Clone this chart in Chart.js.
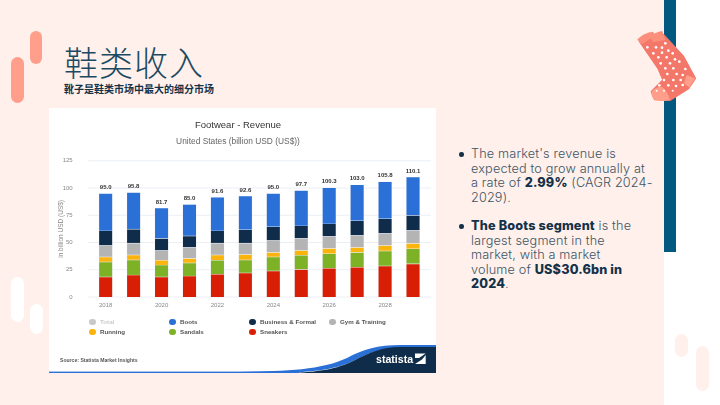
<!DOCTYPE html>
<html>
<head>
<meta charset="utf-8">
<script src="https://cdn.jsdelivr.net/npm/chart.js@4"></script>
<style>
html, body { margin: 0; padding: 0; }
body { width: 720px; height: 405px; position: relative; overflow: hidden; background: #fff; font-family: "Liberation Sans", sans-serif; }
.abs { position: absolute; }
#slide-bg { left: 0; top: 0; width: 664px; height: 405px; background: #fff0eb; }
#strip { left: 664px; top: 0; width: 12px; height: 252px; background: #02587f; }
.pill { position: absolute; border-radius: 7px; }
#title { left: 64px; top: 42px; font: 200 34px/40px "Noto Sans CJK SC"; color: #1c4a63; letter-spacing: 1px; white-space: nowrap; }
#subtitle { left: 64px; top: 82px; font: 700 10px/14px "Noto Sans CJK SC"; color: #12324a; white-space: nowrap; }
#card { left: 49px; top: 108px; width: 387px; height: 265px; background: #fff; }
#chart { position: absolute; left: 0; top: 0; }
#legend { left: 84px; top: 317px; width: 330px; }
.lg { position: absolute; font: 700 6.2px/10px "Liberation Sans"; color: #555; white-space: nowrap; padding-left: 11px; }
.lg i { position: absolute; left: 0; top: 0.5px; width: 6.5px; height: 6.5px; border-radius: 50%; margin-top: 1px; }
#source { left: 60px; top: 356px; font: 700 5.1px/8px "Liberation Sans"; color: #555; white-space: nowrap; }
#logo { left: 375.5px; top: 352px; font: 700 11.5px/14px "Liberation Sans"; color: #fff; white-space: nowrap; transform: scaleX(0.92); transform-origin: left center; }
#notes { left: 458px; top: 147px; width: 204px; font: 300 12.7px/14.5px "Inter"; letter-spacing: 0.15px; color: #3d5566; }
#notes b { font-weight: 800; color: #12324a; }
.note { position: relative; padding-left: 13px; margin-bottom: 14px; white-space: nowrap; }
.note::before { content: ""; position: absolute; left: 1px; top: 5px; width: 4.5px; height: 4.5px; border-radius: 50%; background: #12324a; }
</style>
</head>
<body>
<div class="abs" id="slide-bg"></div>
<div class="abs" id="strip"></div>
<div class="pill" style="left:11px;top:57px;width:13px;height:46px;background:#ff9e8a"></div>
<div class="pill" style="left:30px;top:31px;width:12px;height:33px;background:#ff9e8a"></div>
<div class="pill" style="left:11px;top:277px;width:13px;height:45px;background:#fff"></div>
<div class="pill" style="left:30px;top:304px;width:13px;height:30px;background:#fff"></div>
<div class="pill" style="left:675px;top:334px;width:13px;height:23px;background:#fff0eb"></div>
<div class="pill" style="left:696px;top:346px;width:13px;height:45px;background:#fff0eb"></div>

<!-- sock, coordinates taken from the 3x crop -->
<svg class="abs" style="left:620px;top:0" width="100" height="110" viewBox="0 0 300 330">
  <path d="M60 125 L130 105 L190 170 L225 235 L205 265 L150 300 L105 298 L95 275 L130 240 L115 205 Z" fill="#f4786a" stroke="#f4786a" stroke-width="6" stroke-linejoin="round"/>
  <path d="M52 118 Q70 98 100 95 L104 108 L66 132 Q56 128 52 118 Z" fill="#fb8f7c"/>
  <path d="M88 112 Q105 95 127 93 Q132 108 136 120 L100 126 Z" fill="#fb8f7c"/>
  <path d="M95 275 Q110 258 128 262 Q145 278 150 300 Q115 308 100 296 Q92 285 95 275 Z" fill="#ff9e8a"/>
  <path d="M200 225 L225 235 L208 263 L192 250 Z" fill="#ff9e8a"/>
  <g fill="#fff">
    <circle cx="82" cy="142" r="4"/><circle cx="108" cy="142" r="4"/><circle cx="126" cy="143" r="4"/><circle cx="136" cy="130" r="4"/>
    <circle cx="100" cy="160" r="4"/><circle cx="126" cy="158" r="4"/><circle cx="145" cy="152" r="4"/><circle cx="158" cy="160" r="4"/>
    <circle cx="115" cy="172" r="4"/><circle cx="140" cy="172" r="4"/><circle cx="165" cy="178" r="4"/>
    <circle cx="122" cy="190" r="4"/><circle cx="150" cy="190" r="4"/><circle cx="178" cy="185" r="4"/>
    <circle cx="136" cy="205" r="4"/><circle cx="160" cy="205" r="4"/><circle cx="196" cy="207" r="4"/>
    <circle cx="142" cy="222" r="4"/><circle cx="170" cy="222" r="4"/><circle cx="188" cy="225" r="4"/>
    <circle cx="132" cy="240" r="4"/><circle cx="160" cy="240" r="4"/><circle cx="182" cy="240" r="4"/>
    <circle cx="118" cy="256" r="4"/><circle cx="145" cy="256" r="4"/><circle cx="168" cy="258" r="4"/><circle cx="188" cy="255" r="4"/>
    <circle cx="110" cy="272" r="3"/><circle cx="132" cy="272" r="3"/><circle cx="158" cy="272" r="3"/>
  </g>
</svg>

<div class="abs" id="title">鞋类收入</div>
<div class="abs" id="subtitle">靴子是鞋类市场中最大的细分市场</div>

<div class="abs" id="card">
  <canvas id="chart" width="387" height="265"></canvas>
  <svg class="abs" style="left:0;top:0" width="387" height="265" viewBox="0 0 387 265">
    <path d="M190 264 C240 263 272 262 298 250 C315 241 328 237 352 237 L387 237 L387 240 L350 240 C330 240 318 246 302 254 C280 264 250 264.5 220 265 Z" fill="#2a70d6"/>
    <path d="M240 265 C270 264 288 261 304 253 C320 245 332 239 352 239 L387 239 L387 265 Z" fill="#0f2d4a"/>
    <rect x="0" y="263.6" width="250" height="1.4" fill="#2a70d6"/>
    <path d="M366 245.5 H376.7 L370 250 H366 Z M376.7 247 V256 H366 L373 251.5 Z" fill="#fff"/>
  </svg>
</div>
<div class="abs" id="legend"></div>
<div class="abs" id="source">Source: Statista Market Insights</div>
<div class="abs" id="logo">statista</div>

<div class="abs" id="notes">
  <div class="note">The market's revenue is<br>expected to grow annually at<br>a rate of <b>2.99%</b> (CAGR 2024-<br>2029).</div>
  <div class="note"><b>The Boots segment</b> is the<br>largest segment in the<br>market, with a market<br>volume of <b>US$30.6bn in<br>2024</b>.</div>
</div>

<script>
const years = ['2018', '2019', '2020', '2021', '2022', '2023', '2024', '2025', '2026', '2027', '2028', '2029'];
const sneakers = [18.4, 20.2, 18.4, 19.3, 20.9, 22.1, 23.9, 25.2, 26.4, 27.3, 28.5, 30.4];
const sandals = [13.8, 13.8, 11.0, 12.0, 12.8, 11.9, 12.9, 13.1, 13.2, 13.5, 13.8, 13.8];
const running = [4.6, 4.6, 4.3, 4.0, 4.9, 5.0, 4.0, 4.3, 4.9, 4.6, 4.9, 4.9];
const gym = [10.4, 10.8, 8.9, 10.1, 10.8, 10.4, 11.0, 11.1, 11.0, 11.0, 11.1, 11.9];
const business = [13.5, 12.9, 11.1, 10.7, 11.3, 12.3, 12.6, 11.6, 11.7, 13.5, 13.5, 13.8];
const boots = [34.3, 33.5, 28.0, 28.9, 30.9, 30.9, 30.6, 32.4, 33.1, 33.1, 34.0, 35.3];
const totals = [95.0, 95.8, 81.7, 85.0, 91.6, 92.6, 95.0, 97.7, 100.3, 103.0, 105.8, 110.1];
const yTicks = [0, 25, 50, 75, 100, 125];

const colors = {
    Total: '#c8c8c8',
    Boots: '#2a70d6',
    'Business & Formal': '#0f2d4a',
    'Gym & Training': '#b4b4b4',
    Running: '#fbb40d',
    Sandals: '#7eb226',
    Sneakers: '#d81e05'
};

// legend is a plain 80px grid, chart.js would pack the columns tighter
const legendOrder = ['Total', 'Boots', 'Business & Formal', 'Gym & Training', 'Running', 'Sandals', 'Sneakers'];
const legend = document.getElementById('legend');
legendOrder.forEach((name, i) => {
    const item = document.createElement('div');
    item.className = 'lg';
    item.style.left = (i % 4) * 80 + 5 + 'px';
    item.style.top = Math.floor(i / 4) * 10 + 'px';
    if (name === 'Total') item.style.color = '#ccc';
    item.innerHTML = `<i style="background:${colors[name]}"></i>${name.replace('&', '&amp;')}`;
    legend.appendChild(item);
});

const stacked = (label, data) => ({
    label,
    data,
    backgroundColor: colors[label],
    borderColor: '#eef1f5',
    borderWidth: 0.6,
    barThickness: 13.6,
    stack: 'a'
});

// gridlines stick out a bit past the bars
const gridLines = {
    id: 'gridLines',
    beforeDatasetsDraw(chart) {
        const { ctx, chartArea, scales } = chart;
        ctx.save();
        ctx.strokeStyle = '#e6ebf3';
        ctx.lineWidth = 0.8;
        yTicks.forEach(t => {
            const y = scales.y.getPixelForValue(t);
            ctx.beginPath();
            ctx.moveTo(chartArea.left - 3.5, y);
            ctx.lineTo(chartArea.right + 4, y);
            ctx.stroke();
        });
        ctx.restore();
    }
};

const totalLabels = {
    id: 'totalLabels',
    afterDatasetsDraw(chart) {
        const { ctx, scales } = chart;
        ctx.save();
        ctx.font = '700 6px "Liberation Sans"';
        ctx.fillStyle = '#333';
        ctx.textAlign = 'center';
        ctx.textBaseline = 'bottom';
        totals.forEach((v, i) => {
            ctx.fillText(v.toFixed(1), scales.x.getPixelForValue(i), scales.y.getPixelForValue(v) - 3);
        });
        ctx.restore();
    }
};

new Chart(document.getElementById('chart'), {
    type: 'bar',
    data: {
        labels: years,
        datasets: [
            stacked('Sneakers', sneakers),
            stacked('Sandals', sandals),
            stacked('Running', running),
            stacked('Gym & Training', gym),
            stacked('Business & Formal', business),
            stacked('Boots', boots)
        ]
    },
    options: {
        responsive: false,
        animation: false,
        layout: { padding: { left: 0, right: 9, top: 0, bottom: 60 } },
        plugins: {
            legend: { display: false },
            tooltip: { enabled: false },
            title: {
                display: true,
                text: 'Footwear - Revenue',
                color: '#333',
                font: { family: 'Liberation Sans', size: 9.5, weight: 'normal' },
                padding: { top: 11.6, bottom: 5.7 }
            },
            subtitle: {
                display: true,
                text: 'United States (billion USD (US$))',
                color: '#666',
                font: { family: 'Liberation Sans', size: 8.4, weight: 'normal' },
                padding: { top: 0, bottom: 14 }
            }
        },
        scales: {
            x: {
                stacked: true,
                grid: { display: false, drawTicks: false },
                border: { display: false },
                ticks: {
                    autoSkip: false,
                    maxRotation: 0,
                    padding: 4.4,
                    color: '#888',
                    font: { family: 'Liberation Sans', size: 6 },
                    callback: (v, i) => (i % 2 === 0 ? years[i] : '')
                }
            },
            y: {
                stacked: true,
                min: 0,
                max: 125,
                afterBuildTicks: scale => { scale.ticks = yTicks.map(value => ({ value })); },
                grid: { display: false },
                border: { display: false },
                title: {
                    display: true,
                    text: 'in billion USD (US$)',
                    color: '#888',
                    font: { family: 'Liberation Sans', size: 6.5 },
                    padding: { top: 8, bottom: 0 }
                },
                ticks: {
                    padding: 11,
                    color: '#888',
                    font: { family: 'Liberation Sans', size: 6 }
                },
                afterFit: scale => { scale.width = 42.7; }
            }
        }
    },
    plugins: [gridLines, totalLabels]
});
</script>
</body>
</html>
